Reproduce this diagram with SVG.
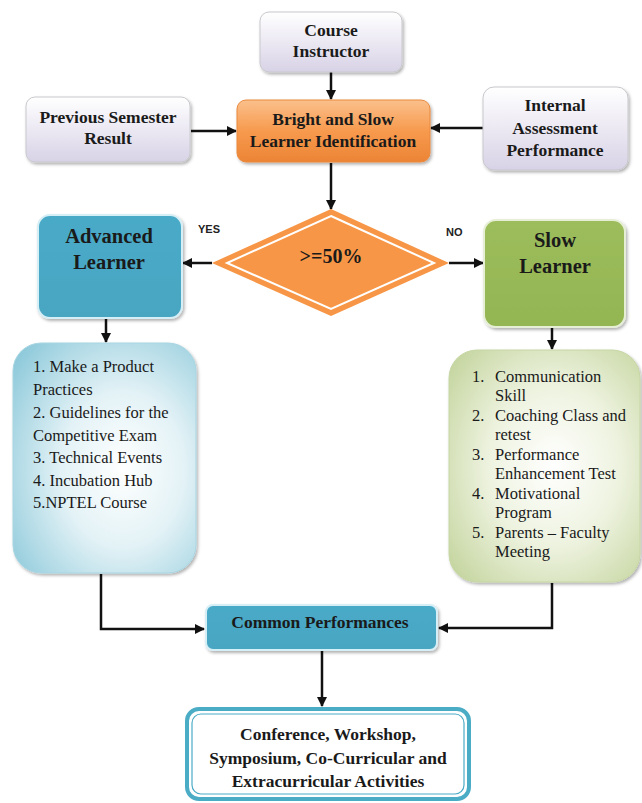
<svg xmlns="http://www.w3.org/2000/svg" width="642" height="803" viewBox="0 0 642 803">
<defs>
<linearGradient id="lav" x1="0" y1="0" x2="0" y2="1"><stop offset="0" stop-color="#ffffff"/><stop offset="1" stop-color="#d8d2e6"/></linearGradient>
<linearGradient id="org" x1="0" y1="0" x2="0" y2="1"><stop offset="0" stop-color="#fbc08c"/><stop offset="0.5" stop-color="#f79a4e"/><stop offset="1" stop-color="#ec8435"/></linearGradient>
<linearGradient id="blu" x1="0" y1="0" x2="0" y2="1"><stop offset="0" stop-color="#48aac8"/><stop offset="1" stop-color="#4aa6c2"/></linearGradient>
<linearGradient id="grn" x1="0" y1="0" x2="0" y2="1"><stop offset="0" stop-color="#9dbd5c"/><stop offset="1" stop-color="#93b552"/></linearGradient>
<radialGradient id="lblu" cx="0.6" cy="0.55" r="0.75"><stop offset="0" stop-color="#ffffff"/><stop offset="0.45" stop-color="#e3f2f6"/><stop offset="1" stop-color="#8fcadb"/></radialGradient>
<radialGradient id="lgrn" cx="0.55" cy="0.5" r="0.75"><stop offset="0" stop-color="#ffffff"/><stop offset="0.45" stop-color="#eef3e0"/><stop offset="1" stop-color="#bfd196"/></radialGradient>
<filter id="sh" x="-10%" y="-10%" width="125%" height="130%"><feDropShadow dx="1.5" dy="2" stdDeviation="1.5" flood-color="#000" flood-opacity="0.3"/></filter>
<marker id="ah" viewBox="0 0 10 10" refX="9" refY="5" markerWidth="4" markerHeight="4" orient="auto"><path d="M0,0 L10,5 L0,10 z" fill="#111"/></marker>
</defs>
<style>
.b{font-family:"Liberation Serif","Times New Roman",serif;font-weight:bold;fill:#1a1a1a;text-anchor:middle}
.r{font-family:"Liberation Serif","Times New Roman",serif;fill:#1a1a1a;font-size:16.5px}
.rr{font-family:"Liberation Serif","Times New Roman",serif;fill:#1a1a1a;font-size:16.5px}
.s{font-family:"Liberation Sans",Arial,sans-serif;font-weight:bold;font-size:11px;fill:#222}
.ln{stroke:#111;stroke-width:2.5;fill:none}
.box{stroke:#c8c8cc;stroke-width:1}
</style>
<g id="connectors">
<line class="ln" x1="331" y1="72" x2="331" y2="99" marker-end="url(#ah)"/>
<line class="ln" x1="191" y1="131" x2="236" y2="131" marker-end="url(#ah)"/>
<line class="ln" x1="483" y1="128" x2="431" y2="128" marker-end="url(#ah)"/>
<line class="ln" x1="331" y1="163" x2="331" y2="209" marker-end="url(#ah)"/>
<line class="ln" x1="212" y1="263" x2="183" y2="263" marker-end="url(#ah)"/>
<line class="ln" x1="449" y1="263" x2="483" y2="263" marker-end="url(#ah)"/>
<line class="ln" x1="106" y1="319" x2="106" y2="342" marker-end="url(#ah)"/>
<line class="ln" x1="552" y1="328" x2="552" y2="349" marker-end="url(#ah)"/>
<polyline class="ln" points="101,574 101,629 204,629" marker-end="url(#ah)"/>
<polyline class="ln" points="552,583 552,628 439,628" marker-end="url(#ah)"/>
<line class="ln" x1="322" y1="651" x2="322" y2="706" marker-end="url(#ah)"/>
</g>
<g id="course-instructor">
<rect class="box" x="260" y="12" width="142" height="60" rx="9" fill="url(#lav)" filter="url(#sh)"/>
<text class="b" font-size="17.5" x="331" y="36">Course</text>
<text class="b" font-size="17.5" x="331" y="57">Instructor</text>
</g>
<g id="previous-semester">
<rect class="box" x="26" y="97" width="164" height="65" rx="9" fill="url(#lav)" filter="url(#sh)"/>
<text class="b" font-size="17.5" x="108" y="123">Previous Semester</text>
<text class="b" font-size="17.5" x="108" y="144">Result</text>
</g>
<g id="identification">
<rect x="237" y="100" width="193" height="62" rx="9" fill="url(#org)" stroke="#e9893f" stroke-width="1" filter="url(#sh)"/>
<text class="b" font-size="17.5" x="333" y="125">Bright and Slow</text>
<text class="b" font-size="17.5" x="333" y="147">Learner Identification</text>
</g>
<g id="internal-assessment">
<rect class="box" x="483" y="87" width="145" height="83" rx="11" fill="url(#lav)" filter="url(#sh)"/>
<text class="b" font-size="17.5" x="555" y="111">Internal</text>
<text class="b" font-size="17.5" x="555" y="134">Assessment</text>
<text class="b" font-size="17.5" x="555" y="156">Performance</text>
</g>
<g id="decision">
<polygon points="331,209 449,263 331,316 212,263" fill="#f79646"/>
<polygon points="331,216 434,263 331,309 227,263" fill="none" stroke="#ffffff" stroke-width="2"/>
<text class="b" font-size="20" x="331" y="263">&gt;=50%</text>
<text class="s" x="198" y="233">YES</text>
<text class="s" x="446" y="236">NO</text>
</g>
<g id="advanced-learner">
<rect x="38" y="215" width="144" height="103" rx="12" fill="url(#blu)" stroke="#d6eef5" stroke-width="2" filter="url(#sh)"/>
<text class="b" font-size="20.5" x="109" y="243">Advanced</text>
<text class="b" font-size="20.5" x="109" y="269">Learner</text>
</g>
<g id="slow-learner">
<rect x="484" y="220" width="141" height="107" rx="12" fill="url(#grn)" stroke="#e6efd6" stroke-width="2" filter="url(#sh)"/>
<text class="b" font-size="20.5" x="555" y="247">Slow</text>
<text class="b" font-size="20.5" x="555" y="273">Learner</text>
</g>
<g id="advanced-activities">
<rect x="13" y="343" width="183" height="230" rx="28" fill="url(#lblu)" stroke="#a8d5e2" stroke-width="1" filter="url(#sh)"/>
<text class="r" x="33" y="372">1. Make a Product</text>
<text class="r" x="33" y="395">Practices</text>
<text class="r" x="33" y="418">2. Guidelines for the</text>
<text class="r" x="33" y="441">Competitive Exam</text>
<text class="r" x="33" y="463">3. Technical Events</text>
<text class="r" x="33" y="486">4. Incubation Hub</text>
<text class="r" x="33" y="508">5.NPTEL Course</text>
</g>
<g id="slow-activities">
<rect x="449" y="350" width="191" height="232" rx="28" fill="url(#lgrn)" stroke="#c6d6a4" stroke-width="1" filter="url(#sh)"/>
<text class="rr" x="472" y="382">1.</text><text class="rr" x="495" y="382">Communication</text>
<text class="rr" x="495" y="401">Skill</text>
<text class="rr" x="472" y="421">2.</text><text class="rr" x="495" y="421">Coaching Class and</text>
<text class="rr" x="495" y="440">retest</text>
<text class="rr" x="472" y="460">3.</text><text class="rr" x="495" y="460">Performance</text>
<text class="rr" x="495" y="479">Enhancement Test</text>
<text class="rr" x="472" y="499">4.</text><text class="rr" x="495" y="499">Motivational</text>
<text class="rr" x="495" y="518">Program</text>
<text class="rr" x="472" y="538">5.</text><text class="rr" x="495" y="538">Parents – Faculty</text>
<text class="rr" x="495" y="557">Meeting</text>
</g>
<g id="common-performances">
<rect x="206" y="605" width="231" height="45" rx="7" fill="url(#blu)" stroke="#d6eef5" stroke-width="2" filter="url(#sh)"/>
<text class="b" font-size="17.5" x="320" y="628">Common Performances</text>
</g>
<g id="activities">
<rect x="187" y="709" width="282" height="90" rx="12" fill="#ffffff" stroke="#4bacc6" stroke-width="4"/>
<rect x="192" y="714" width="272" height="80" rx="9" fill="#ffffff" stroke="#4bacc6" stroke-width="1.2"/>
<text class="b" font-size="17.5" x="328" y="740">Conference, Workshop,</text>
<text class="b" font-size="17.5" x="328" y="764">Symposium, Co-Curricular and</text>
<text class="b" font-size="17.5" x="328" y="787">Extracurricular Activities</text>
</g>
</svg>
